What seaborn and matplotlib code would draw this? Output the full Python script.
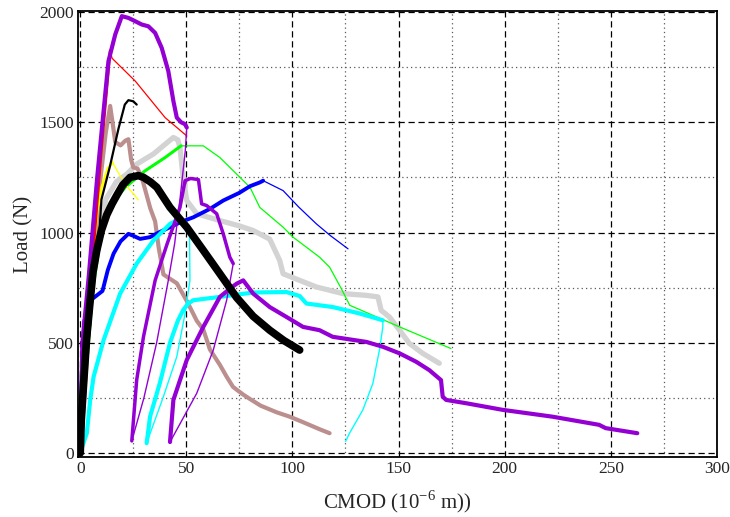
import numpy as np
import pandas as pd
import seaborn as sns
import matplotlib.pyplot as plt
from matplotlib.ticker import MultipleLocator

sns.set_style("white")
plt.rcParams['font.family'] = ['Liberation Serif', 'DejaVu Serif']
plt.rcParams['mathtext.fontset'] = 'custom'
plt.rcParams['mathtext.rm'] = 'Liberation Serif'

# load-CMOD curves (CMOD in 1e-6 m, load in N)
red_load_x = [0, 2, 6, 10, 14.1]
red_load_y = [0, 250, 900, 1380, 1825]
red_tail_x = [14.1, 15, 25.9, 40, 50.2]
red_tail_y = [1825, 1790, 1687, 1521, 1438]

black_x = [0, 3, 7, 9, 10, 14, 18, 21, 22.7, 25, 26.6]
black_y = [0, 400, 850, 1000, 1150, 1300, 1470, 1580, 1600, 1595, 1580]

yellow_load_x = [0, 4, 8, 10, 13, 15.2]
yellow_load_y = [0, 700, 1100, 1200, 1290, 1318]
yellow_tail_x = [15.2, 18, 22, 27.4]
yellow_tail_y = [1318, 1270, 1210, 1148]

gray_x = [0, 3, 7, 12, 17, 22, 26.6, 30, 34.5, 40, 43.9, 46, 47, 48.5, 50.2, 54.9,
          65.8, 75, 81.5, 89.3, 94, 95.6, 103.4, 111.3, 123.8, 134.8, 140.3, 141.8,
          145.7, 150.5, 155.1, 161.4, 169.2]
gray_y = [0, 500, 900, 1150, 1230, 1265, 1310, 1330, 1356, 1400, 1431, 1420, 1385,
          1250, 1145, 1085, 1054, 1030, 1009, 970, 873, 813, 783, 753, 723, 715, 708,
          647, 617, 557, 497, 452, 407]

brown_x = [0, 5, 9, 12, 14.1, 15.5, 16.5, 19, 21.2, 22.7, 24, 25, 27, 29, 31, 33,
           35.3, 37, 39.2, 42.3, 45.5, 50.2, 54.9, 58, 61.1, 65.8, 69, 72, 76.8, 80,
           85, 92.5, 98.7, 105, 112.8, 117.5]
brown_y = [0, 700, 1200, 1450, 1574, 1480, 1410, 1395, 1416, 1423, 1330, 1295, 1290,
           1250, 1180, 1110, 1050, 930, 810, 790, 770, 690, 600, 560, 470, 400, 346,
           300, 265, 245, 215, 185, 165, 140, 108, 90]

green_load_x = [0, 3, 6, 10, 15, 21.2, 30.6, 40, 47.5]
green_load_y = [0, 400, 750, 1000, 1130, 1205, 1280, 1340, 1393]
green_tail_x = [47.5, 58, 65.8, 73.7, 80, 84.6, 95.6, 100.3, 112.8, 117.5, 123, 127,
                150.5, 174.7]
green_tail_y = [1393, 1393, 1340, 1265, 1205, 1114, 1024, 979, 888, 843, 746, 670,
                572, 474]

blue_load_x = [0, 0.5, 1, 2, 4.5, 10.5, 13, 15.7, 19, 22.7, 25, 28.2, 32.9, 37, 42.3,
               48, 53.3, 61.1, 67.4, 75, 80, 84.6, 86.2]
blue_load_y = [0, 250, 450, 600, 690, 735, 830, 904, 960, 994, 985, 971, 979,
               1000, 1024, 1050, 1069, 1107, 1145, 1180, 1210, 1227, 1235]
blue_tail_x = [86.2, 95.6, 103, 111.3, 118, 126.2]
blue_tail_y = [1235, 1190, 1115, 1039, 985, 926]

cyan_load_x = [0, 1, 3.1, 4.7, 6.3, 11, 18.8, 26.6, 34.5, 42.3, 47]
cyan_load_y = [0, 30, 90, 241, 346, 512, 723, 859, 964, 1039, 1062]
cyan_unload1_x = [47, 50, 51.5, 51.7, 49.4, 45.5, 39.2, 31.3]
cyan_unload1_y = [1062, 1050, 990, 783, 633, 437, 256, 45]
cyan_reload_x = [31.3, 32.9, 37.6, 42.3, 46, 48.6, 50.9, 53.3, 65.8, 81.5, 97.2,
                 103.4, 106.6, 112.8, 119, 131.6, 142.6]
cyan_reload_y = [45, 165, 320, 500, 600, 650, 678, 693, 708, 728, 730, 712, 678, 670,
                 662, 633, 602]
cyan_unload2_x = [142.6, 142.6, 141, 137.9, 133.2, 126.9, 125]
cyan_unload2_y = [602, 572, 467, 316, 196, 90, 52]

purple_load_x = [0, 1, 4, 8, 11, 13.3, 16.5, 19.6, 22.7, 25.9, 29, 32.1, 35.3, 38.4,
                 41.5, 43.9, 45.5, 47.5, 49.4, 50.2]
purple_load_y = [0, 500, 800, 1250, 1550, 1777, 1898, 1981, 1973, 1958, 1943, 1935,
                 1905, 1837, 1732, 1596, 1521, 1500, 1491, 1476]
purple_unload1_x = [50.2, 49.5, 47, 44.5, 41.5, 36, 30, 24.3]
purple_unload1_y = [1476, 1370, 1150, 950, 783, 500, 250, 55]
purple_reload1_x = [24.3, 26.6, 29.8, 35.3, 41, 47, 49.4, 52, 55.7, 57.2, 59.6, 64.3,
                    67.4, 70.5, 72.1]
purple_reload1_y = [55, 331, 527, 783, 950, 1114, 1235, 1245, 1240, 1130, 1122, 1085,
                    994, 888, 859]
purple_unload2_x = [72.1, 69, 62.7, 54.9, 48, 42.3]
purple_unload2_y = [859, 693, 467, 271, 150, 50]
purple_reload2_x = [42.3, 43.9, 50.2, 58, 65.8, 70.5, 73.7, 76.8, 81.5, 89.3, 97.2,
                    105, 112.8, 119, 134.8, 142.6, 150.5, 158.3, 164.5, 170, 170.8,
                    172.4, 181.8, 199, 222.5, 244.5, 247.6, 262.5]
purple_reload2_y = [50, 241, 422, 572, 708, 745, 768, 783, 723, 662, 617, 572, 557,
                    527, 504, 482, 452, 414, 376, 331, 256, 241, 226, 196, 165, 128,
                    113, 90]

fit_x = [0, 0.5, 1.6, 3, 4.7, 6, 7.8, 10, 12.5, 15, 17.3, 20, 23.5, 27.4, 29.8, 33,
         36.1, 42.3, 50.2, 58, 65.8, 73.7, 81.5, 89.3, 96, 103.4]
fit_y = [0, 150, 316, 520, 693, 820, 919, 1010, 1080, 1130, 1170, 1215, 1250, 1258,
         1250, 1230, 1205, 1114, 1024, 919, 813, 705, 620, 557, 510, 467]

fig = plt.figure(figsize=(7.3, 5.17), dpi=100)
ax = fig.add_axes([0.107, 0.116, 0.875, 0.863])

# (x, y, colour, linewidth) in drawing order
segments = [
    (gray_x, gray_y, '#D3D3D3', 3.8),
    (brown_x, brown_y, '#BC8F8F', 3.0),
    (green_load_x, green_load_y, '#00FF00', 2.2),
    (green_tail_x, green_tail_y, '#00FF00', 0.9),
    (blue_load_x, blue_load_y, '#0000FF', 2.8),
    (blue_tail_x, blue_tail_y, '#0000FF', 0.9),
    (cyan_load_x, cyan_load_y, '#00FFFF', 3.0),
    (cyan_unload1_x, cyan_unload1_y, '#00FFFF', 1.0),
    (cyan_reload_x, cyan_reload_y, '#00FFFF', 3.0),
    (cyan_unload2_x, cyan_unload2_y, '#00FFFF', 1.0),
    (yellow_load_x, yellow_load_y, '#FFFF00', 2.0),
    (yellow_tail_x, yellow_tail_y, '#FFFF00', 0.9),
    (black_x, black_y, 'black', 1.6),
    (red_load_x, red_load_y, '#FF0000', 2.0),
    (red_tail_x, red_tail_y, '#FF0000', 0.9),
    (purple_load_x, purple_load_y, '#9400D3', 3.0),
    (purple_unload1_x, purple_unload1_y, '#9400D3', 1.0),
    (purple_reload1_x, purple_reload1_y, '#9400D3', 2.5),
    (purple_unload2_x, purple_unload2_y, '#9400D3', 1.0),
    (purple_reload2_x, purple_reload2_y, '#9400D3', 3.0),
    (fit_x, fit_y, 'black', 5.5),
]
for xs, ys, c, lw in segments:
    sns.lineplot(x=xs, y=ys, sort=False, estimator=None, color=c, lw=lw, ax=ax)

ax.set_xlim(-1, 300)
ax.set_ylim(-18, 2005)
ax.xaxis.set_major_locator(MultipleLocator(50))
ax.xaxis.set_minor_locator(MultipleLocator(25))
ax.yaxis.set_major_locator(MultipleLocator(500))
ax.yaxis.set_minor_locator(MultipleLocator(250))
ax.grid(which='major', color='black', linestyle=(0, (5, 3)), lw=0.9)
ax.grid(which='minor', color='0.35', linestyle=(0, (1, 2.5)), lw=0.9)
ax.set_axisbelow(True)
for s in ax.spines.values():
    s.set_color('black')
    s.set_linewidth(1.3)
ax.tick_params(which='both', direction='in', length=0, labelsize=12.5, pad=3)

ax.set_xlabel('CMOD (10$^{-6}$ m))', fontsize=15, labelpad=8)
ax.set_ylabel('Load (N)', fontsize=15, labelpad=4)

fig.savefig('out.png', dpi=100)
